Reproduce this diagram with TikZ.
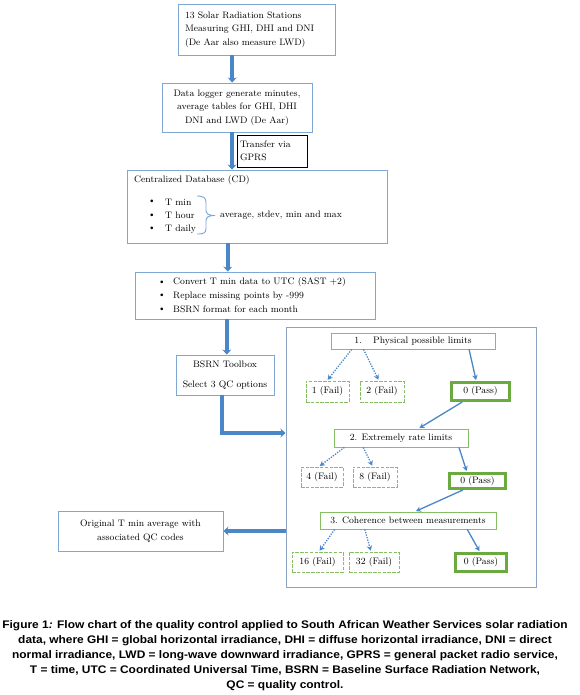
\documentclass[tikz,border=0pt]{standalone}
\usepackage{fontspec}
\setsansfont{Liberation Sans}
\usetikzlibrary{arrows.meta,calc}
\definecolor{boxblue}{HTML}{7FA7D3}
\definecolor{frameblue}{HTML}{8CA3C2}
\definecolor{arrowblue}{HTML}{4A87C9}
\definecolor{lgreen}{HTML}{86BE62}
\definecolor{dgreen}{HTML}{6AAA3E}
\begin{document}
\begin{tikzpicture}[x=1pt,y=-1pt,
  txt/.style={font=\fontsize{9.4}{13.5}\selectfont},
  bluebox/.style={draw=boxblue, line width=0.9pt, txt, inner sep=0pt},
  qcbox/.style={draw=lgreen, line width=0.9pt, txt, inner sep=0pt},
  failbox/.style={draw=lgreen, line width=0.85pt, dash pattern=on 3.5pt off 1.3pt, txt, inner sep=0pt},
  passbox/.style={draw=dgreen, line width=2.6pt, txt, inner sep=0pt},
  bigarrow/.style={draw=arrowblue, line width=3.6pt, -{Stealth[length=5pt,width=9pt]}},
  thinarrow/.style={draw=arrowblue, line width=1.3pt, -{Stealth[length=5pt,width=5.5pt]}, shorten >=1pt},
  dotarrow/.style={thinarrow, dash pattern=on 1.3pt off 1.3pt}
]
\useasboundingbox (0,0) rectangle (580,695);
\fill[white] (0,0) rectangle (580,695);

% main flow boxes
\node[bluebox, minimum width=157pt, minimum height=51pt, text width=143pt, inner xsep=7pt, align=left] (b1) at (256.5,29.5)
  {13 Solar Radiation Stations\\Measuring GHI, DHI and DNI\\(De Aar also measure LWD)};
\node[bluebox, minimum width=150pt, minimum height=49pt, align=center] (b2) at (237,107.5)
  {Data logger generate minutes,\\average tables for GHI, DHI\\DNI and LWD (De Aar)};
\node[draw=black, line width=0.9pt, txt, font=\fontsize{9.4}{12.5}\selectfont, minimum width=70pt, minimum height=32pt, text width=64pt, inner xsep=3pt, inner ysep=0pt, align=left] (tr) at (272,151)
  {Transfer via\\GPRS};
\node[bluebox, minimum width=260pt, minimum height=73pt] (b3) at (257,206.5) {};
\node[txt, anchor=west, inner sep=0pt] (b3t) at (134,180) {Centralized Database (CD)};
\node[txt, inner sep=0pt] (b3d1) at (152,202) {\textbullet};
\node[txt, inner sep=0pt] (b3d2) at (152,215.5) {\textbullet};
\node[txt, inner sep=0pt] (b3d3) at (152,229) {\textbullet};
\node[txt, anchor=west, inner sep=0pt] (b3l1) at (165,202) {T min};
\node[txt, anchor=west, inner sep=0pt] (b3l2) at (165,215.5) {T hour};
\node[txt, anchor=west, inner sep=0pt] (b3l3) at (165,229) {T daily};
\draw[boxblue, line width=0.9pt] (197,196) .. controls (204,196) and (206,198) .. (206,203)
  -- (206,210) .. controls (206,213.5) and (208,215.5) .. (215,215.5)
  .. controls (208,215.5) and (206,217.5) .. (206,221) -- (206,228)
  .. controls (206,233) and (204,234) .. (197,234);
\node[txt, anchor=west, inner sep=0pt] (b3s) at (220,215.5) {average, stdev, min and max};

\node[bluebox, minimum width=240pt, minimum height=47pt] (b4) at (255,295.5) {};
\node[txt, inner sep=0pt] (b4d1) at (162,282.5) {\textbullet};
\node[txt, inner sep=0pt] (b4d2) at (162,296) {\textbullet};
\node[txt, inner sep=0pt] (b4d3) at (162,309.5) {\textbullet};
\node[txt, anchor=west, inner sep=0pt] (b4l1) at (173,282.5) {Convert T min data to UTC (SAST +2)};
\node[txt, anchor=west, inner sep=0pt] (b4l2) at (173,296) {Replace missing points by -999};
\node[txt, anchor=west, inner sep=0pt] (b4l3) at (173,309.5) {BSRN format for each month};

\node[bluebox, minimum width=98pt, minimum height=40pt, align=center] (b5) at (225,375)
  {BSRN Toolbox\\[6.5pt]Select 3 QC options};

\node[draw=frameblue, line width=1pt, minimum width=250pt, minimum height=260pt] (big) at (411,457) {};

\node[bluebox, minimum width=165pt, minimum height=40pt, align=center] (orig) at (140.5,531)
  {Original T min average with\\associated QC codes};

% QC boxes
\node[qcbox, minimum width=164pt, minimum height=16pt] (q1) at (413,341) {1.\hspace{1.2em}Physical possible limits};
\node[failbox, minimum width=43pt, minimum height=21pt] (f1) at (327.5,391.5) {1 (Fail)};
\node[failbox, minimum width=44pt, minimum height=21pt] (f2) at (382,391.5) {2 (Fail)};
\node[passbox, minimum width=58.5pt, minimum height=18.5pt] (p1) at (480.5,391.5) {0 (Pass)};

\node[qcbox, minimum width=134pt, minimum height=18pt] (q2) at (401,438) {2. Extremely rate limits\hspace{2.2em}};
\node[failbox, minimum width=42pt, minimum height=20pt] (f4) at (322,477) {4 (Fail)};
\node[failbox, minimum width=44pt, minimum height=20pt] (f8) at (375,477) {8 (Fail)};
\node[passbox, minimum width=56.5pt, minimum height=15.5pt] (p2) at (477.5,481) {0 (Pass)};

\node[qcbox, minimum width=176pt, minimum height=17pt] (q3) at (408,520.5) {3. Coherence between measurements};
\node[failbox, minimum width=51pt, minimum height=20pt] (f16) at (317.5,562) {16 (Fail)};
\node[failbox, minimum width=50pt, minimum height=20pt] (f32) at (374,562) {32 (Fail)};
\node[passbox, minimum width=51.5pt, minimum height=18.5pt] (p3) at (481,562.5) {0 (Pass)};

% main arrows
\coordinate (a1) at ($(b1.south west)!0.346!(b1.south east)$);
\draw[bigarrow] (a1) -- (a1 |- b2.north);
\coordinate (a2) at ($(b2.south west)!0.467!(b2.south east)$);
\draw[bigarrow] (a2) -- (a2 |- b3.north);
\coordinate (a3) at ($(b3.south west)!0.388!(b3.south east)$);
\draw[bigarrow] (a3) -- (a3 |- b4.north);
\coordinate (a4) at ($(b4.south west)!0.383!(b4.south east)$);
\draw[bigarrow] (a4) -- (a4 |- b5.north);
\coordinate (a5) at ($(b5.south west)!0.47!(b5.south east)$);
\coordinate (a5e) at ($(big.north west)!0.408!(big.south west)$);
\draw[bigarrow] (a5) |- (a5e);
\draw[bigarrow] (big.west |- orig.east) -- (orig.east);

% QC arrows
\draw[dotarrow] ($(q1.south west)!0.128!(q1.south east)$) -- ($(f1.north west)!0.49!(f1.north east)$);
\draw[dotarrow] ($(q1.south west)!0.20!(q1.south east)$) -- ($(f2.north west)!0.43!(f2.north east)$);
\draw[thinarrow] ($(q1.south west)!0.84!(q1.south east)$) -- ($(p1.north west)!0.43!(p1.north east)$);
\draw[thinarrow] ($(p1.south west)!0.2!(p1.south east)$) -- ($(q2.north west)!0.63!(q2.north east)$);

\draw[dotarrow] ($(q2.south west)!0.08!(q2.south east)$) -- ($(f4.north west)!0.43!(f4.north east)$);
\draw[dotarrow] ($(q2.south west)!0.22!(q2.south east)$) -- ($(f8.north west)!0.45!(f8.north east)$);
\draw[thinarrow] ($(q2.south west)!0.93!(q2.south east)$) -- ($(p2.north west)!0.32!(p2.north east)$);
\draw[thinarrow] ($(p2.south west)!0.25!(p2.south east)$) -- ($(q3.north west)!0.54!(q3.north east)$);

\draw[dotarrow] ($(q3.south west)!0.085!(q3.south east)$) -- ($(f16.north west)!0.53!(f16.north east)$);
\draw[dotarrow] ($(q3.south west)!0.256!(q3.south east)$) -- ($(f32.north west)!0.44!(f32.north east)$);
\draw[thinarrow] ($(q3.south west)!0.835!(q3.south east)$) -- ($(p3.north west)!0.48!(p3.north east)$);

% caption
\node[font=\sffamily\bfseries\fontsize{11}{15}\selectfont, inner sep=0pt] (cap) at (285,655)
  {\scalebox{1.085}[1]{\begin{tabular}{@{}c@{}}
   Figure 1\textit{:} Flow chart of the quality control applied to South African Weather Services solar radiation\\
   data, where GHI = global horizontal irradiance, DHI = diffuse horizontal irradiance, DNI = direct\\
   normal irradiance, LWD = long-wave downward irradiance, GPRS = general packet radio service,\\
   T = time, UTC = Coordinated Universal Time, BSRN = Baseline Surface Radiation Network,\\
   QC = quality control.
   \end{tabular}}};
\end{tikzpicture}
\end{document}
